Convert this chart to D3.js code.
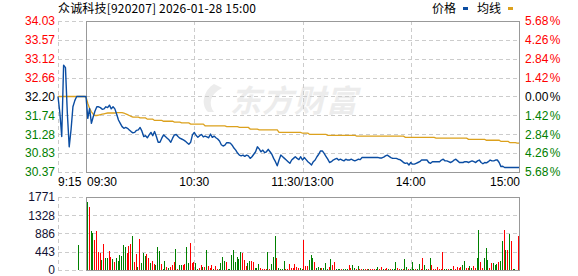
<!DOCTYPE html>
<html><head><meta charset="utf-8">
<script src="https://cdn.jsdelivr.net/npm/d3@7"></script>
<style>body{margin:0;background:#fff}svg{display:block}</style>
</head><body>
<svg id="c" width="578" height="276"></svg>
<script>
// ---------------- data ----------------
const title = "众诚科技[920207] 2026-01-28 15:00";
const legendNames = ["价格", "均线"];
const prevClose = 32.20;
const priceTicks = [34.03, 33.57, 33.12, 32.66, 32.20, 31.74, 31.28, 30.83, 30.37];
const pctTicks = ["5.68 %", "4.26 %", "2.84 %", "1.42 %", "0.00 %", "1.42 %", "2.84 %", "4.26 %", "5.68 %"];
const volTicks = [1771, 1328, 886, 443, 0];
const timeLabels = ["9:15", "09:30", "10:30", "11:30/13:00", "14:00", "15:00"];
const timeLabelMinutes = [0, 0, 60, 120, 180, 240]; // first on pre-market scale

// pre-market 9:15 .. 9:29
const prePrice = [32.20, 31.80, 31.23, 32.96, 32.90, 31.80, 30.98, 31.40, 31.95, 32.10, 32.20, 32.20, 32.20, 32.20, 32.20];
const preAvg = [32.20, 32.20, 32.20, 32.20, 32.20, 32.20, 32.20, 32.20, 32.20, 32.20, 32.20, 32.20, 32.20, 32.20, 32.20];
const preVolume = [0, 0, 0, 0, 0, 0, 0, 0, 0, 0, 607, 0, 0, 0, 0];

// 9:30 .. 15:00, one point per minute
const price = [
32.20,31.67,31.91,31.55,31.71,31.85,31.95,31.95,31.93,31.89,
31.90,31.95,31.93,31.99,31.90,31.95,31.90,31.77,31.63,31.55,
31.47,31.43,31.45,31.43,31.39,31.35,31.32,31.33,31.38,31.39,
31.45,31.36,31.23,31.25,31.20,31.27,31.33,31.25,31.35,31.23,
31.09,31.09,31.19,31.27,31.23,31.19,31.15,31.09,31.19,31.27,
31.28,31.23,31.19,31.17,31.15,31.12,31.08,31.04,31.09,31.27,
31.33,31.26,31.21,31.25,31.28,31.22,31.24,31.22,31.20,31.29,
31.21,31.24,31.20,31.17,31.12,31.03,31.00,31.02,31.08,31.08,
31.07,31.02,30.95,30.90,30.83,30.78,30.76,30.78,30.75,30.78,
30.76,30.70,30.74,30.80,30.86,30.98,30.93,30.86,30.90,30.84,
30.86,30.92,30.86,30.80,30.70,30.62,30.52,30.66,30.78,30.74,
30.70,30.66,30.62,30.58,30.66,30.70,30.74,30.70,30.67,30.74,
30.66,30.72,30.67,30.62,30.58,30.54,30.62,30.66,30.74,30.80,
30.88,30.88,30.82,30.75,30.68,30.60,30.62,30.66,30.68,30.70,
30.66,30.68,30.66,30.64,30.68,30.66,30.66,30.68,30.66,30.64,
30.66,30.68,30.67,30.72,30.72,30.72,30.72,30.72,30.72,30.72,
30.72,30.72,30.72,30.71,30.71,30.73,30.76,30.78,30.75,30.72,
30.70,30.70,30.70,30.68,30.67,30.64,30.60,30.58,30.59,30.54,
30.60,30.56,30.56,30.58,30.60,30.62,30.66,30.66,30.66,30.66,
30.60,30.58,30.62,30.62,30.62,30.62,30.62,30.66,30.68,30.64,
30.64,30.62,30.60,30.62,30.66,30.68,30.64,30.60,30.60,30.60,
30.62,30.62,30.60,30.62,30.64,30.62,30.60,30.64,30.66,30.60,
30.57,30.60,30.59,30.62,30.66,30.64,30.64,30.66,30.66,30.60,
30.50,30.51,30.48,30.48,30.48,30.48,30.48,30.48,30.48,30.48,
30.48];

const avgPrice = [
32.19,32.03,31.91,31.83,31.77,31.74,31.74,31.75,31.76,31.77,
31.78,31.79,31.80,31.80,31.80,31.80,31.80,31.81,31.81,31.81,
31.81,31.80,31.78,31.76,31.74,31.72,31.70,31.70,31.70,31.70,
31.68,31.68,31.68,31.68,31.65,31.65,31.65,31.65,31.62,31.62,
31.62,31.62,31.62,31.60,31.60,31.60,31.60,31.60,31.60,31.58,
31.58,31.58,31.58,31.56,31.56,31.56,31.56,31.56,31.53,31.53,
31.53,31.53,31.53,31.53,31.53,31.53,31.49,31.49,31.49,31.49,
31.49,31.49,31.49,31.49,31.49,31.49,31.49,31.49,31.47,31.47,
31.47,31.47,31.47,31.47,31.47,31.45,31.45,31.45,31.45,31.45,
31.45,31.41,31.41,31.41,31.41,31.41,31.39,31.39,31.39,31.39,
31.39,31.39,31.39,31.39,31.39,31.39,31.39,31.33,31.33,31.33,
31.33,31.33,31.33,31.33,31.33,31.33,31.33,31.33,31.33,31.33,
31.31,31.31,31.31,31.31,31.28,31.28,31.28,31.28,31.28,31.28,
31.28,31.28,31.28,31.28,31.26,31.26,31.26,31.26,31.26,31.26,
31.26,31.26,31.26,31.26,31.26,31.26,31.26,31.26,31.26,31.26,
31.24,31.24,31.24,31.24,31.24,31.24,31.24,31.24,31.24,31.24,
31.24,31.24,31.24,31.24,31.24,31.24,31.24,31.24,31.24,31.24,
31.24,31.24,31.24,31.24,31.24,31.24,31.24,31.21,31.21,31.21,
31.21,31.21,31.21,31.21,31.21,31.21,31.21,31.21,31.21,31.21,
31.21,31.21,31.21,31.21,31.19,31.19,31.19,31.19,31.19,31.19,
31.19,31.19,31.19,31.19,31.19,31.19,31.19,31.19,31.19,31.19,
31.19,31.19,31.16,31.16,31.16,31.16,31.16,31.16,31.16,31.16,
31.16,31.16,31.14,31.14,31.14,31.14,31.14,31.14,31.14,31.14,
31.11,31.11,31.11,31.11,31.11,31.08,31.08,31.08,31.08,31.07,
31.07];

// one bar per minute (9:31 .. 15:00)
const volume = [
1658,1537,947,906,728,947,429,405,243,631,
291,291,461,324,267,186,291,227,364,340,
607,550,413,590,631,825,202,388,81,752,
170,413,340,388,291,170,218,146,129,558,
461,146,24,218,73,49,81,129,194,510,
24,121,121,121,146,558,170,655,170,186,
170,24,49,121,73,73,485,97,49,121,
24,97,24,24,170,316,218,194,24,24,
364,485,194,316,267,437,413,243,97,170,
218,218,186,49,49,146,49,24,24,24,
437,24,146,316,825,291,49,24,24,218,
24,24,146,40,40,137,81,57,57,20,
728,97,97,243,364,283,202,40,81,40,
40,57,162,24,65,259,121,202,24,24,
24,24,24,24,24,121,40,121,40,24,
97,24,24,24,24,24,24,24,24,24,
24,73,24,65,24,24,49,24,24,24,
24,186,40,32,24,24,267,73,24,24,
194,32,24,24,137,24,291,129,24,32,
291,129,24,24,81,24,24,437,24,24,
24,24,24,97,24,65,40,81,121,210,
49,40,105,40,105,40,291,971,202,49,
283,534,235,49,162,162,129,146,202,227,
696,971,485,485,874,712,24,24,0,825];
// 1 = up minute (red), 0 = down minute (green)
const volUp = [
0,1,0,0,1,1,1,1,0,1, 0,0,1,1,0,1,0,0,0,0, 0,0,1,1,1,0,1,1,0,1, 0,0,0,1,1,0,1,1,0,0,
0,1,0,0,1,0,1,1,1,0, 1,0,0,1,1,0,0,1,1,1, 0,0,1,1,0,1,0,1,1,1, 0,1,1,0,0,0,0,1,0,0,
0,0,0,0,0,0,1,1,1,0, 0,1,1,0,0,0,1,1,1,1, 0,1,0,0,0,1,0,0,0,0, 1,1,1,1,1,1,1,1,0,0,
1,1,1,0,0,0,1,0,0,0, 1,0,0,0,1,0,1,1,0,0, 0,1,0,0,0,1,1,0,0,1, 0,1,1,0,1,1,0,1,1,1,
0,0,1,1,0,1,1,0,1,0, 0,0,1,1,0,1,0,0,1,0, 0,0,1,0,0,1,1,0,0,1, 0,1,1,1,1,1,1,1,0,0,
1,0,0,1,1,1,1,1,0,0, 1,1,0,0,1,1,0,0,1,1, 0,0,0,1,1,0,0,0,1,0, 0,1,0,1,0,1,0,0,0,1];

// ---------------- drawing ----------------
const C = {
  red: "#ff0000", green: "#008000", black: "#000000",
  blue: "#0b4da2", gold: "#dca11d",
  frame: "#999999", grid: "#cccccc"
};
const FONT = "'Liberation Sans', Arial, sans-serif";
const CJK = "'Noto Sans CJK SC', sans-serif";

const svg = d3.select("#c");
const xL = 58, x0 = 86, x1 = 519;
const pTop = 21, pBot = 172, vTop = 197, vBot = 270;

const xPre = d3.scaleLinear().domain([0, 15]).range([xL, x0]);
const x = d3.scaleLinear().domain([0, 240]).range([x0, x1]);
const y = d3.scaleLinear().domain([priceTicks[priceTicks.length - 1], priceTicks[0]]).range([pBot, pTop]);
const yv = d3.scaleLinear().domain([0, volTicks[0]]).range([vBot, vTop]);

const px = v => Math.round(v) + 0.5;

// watermark
svg.append("text").attr("x", 230).attr("y", 112)
  .attr("font-family", CJK).attr("font-size", 31).attr("font-weight", "bold")
  .attr("font-style", "italic").attr("fill", "#ececec").attr("letter-spacing", 1)
  .text("东方财富");
svg.append("path")
  .attr("d", "M214,84 C204,90 200,104 208,112 L214,112 C208,104 210,94 222,88 Z")
  .attr("fill", "#ececec");

// horizontal grids
function hgrid(vals, sc) {
  const g = svg.append("g");
  vals.forEach(v => {
    const yy = px(sc(v));
    g.append("line").attr("x1", xL).attr("x2", x1).attr("y1", yy).attr("y2", yy)
      .attr("stroke", C.grid).attr("stroke-dasharray", "4,3");
  });
}
hgrid(priceTicks, y);
hgrid(volTicks, yv);

// vertical grids + frames
[[pTop, pBot], [vTop, vBot]].forEach(([a, b]) => {
  [60, 120, 180].forEach(m => {
    svg.append("line").attr("x1", px(x(m))).attr("x2", px(x(m))).attr("y1", a).attr("y2", b)
      .attr("stroke", C.grid).attr("stroke-dasharray", "4,3");
  });
  svg.append("line").attr("x1", px(xL)).attr("x2", px(xL)).attr("y1", a).attr("y2", b)
    .attr("stroke", C.grid).attr("stroke-dasharray", "4,3");
  svg.append("rect").attr("x", px(x0)).attr("y", px(a)).attr("width", Math.round(x1) - Math.round(x0))
    .attr("height", Math.round(b) - Math.round(a))
    .attr("fill", "none").attr("stroke", C.frame);
});

// volume bars
const barG = svg.append("g").attr("shape-rendering", "crispEdges");
preVolume.forEach((v, i) => {
  if (!v) return;
  barG.append("rect").attr("x", Math.round(xPre(i + 0.5))).attr("width", 1)
    .attr("y", yv(v)).attr("height", vBot - yv(v)).attr("fill", C.green);
});
volume.forEach((v, i) => {
  if (!v) return;
  barG.append("rect").attr("x", Math.round(x(i + 0.5))).attr("width", 1)
    .attr("y", yv(v)).attr("height", vBot - yv(v))
    .attr("fill", volUp[i] ? C.red : C.green);
});

// lines
const prePts = prePrice.map((p, i) => [xPre(i), y(p)]);
const mainPts = price.map((p, i) => [x(i), y(p)]);
const preAvgPts = preAvg.map((p, i) => [xPre(i), y(p)]);
const avgPts = avgPrice.map((p, i) => [x(i), y(p)]);
const line = d3.line();
svg.append("path").attr("d", line(preAvgPts.concat(avgPts)))
  .attr("fill", "none").attr("stroke", C.gold).attr("stroke-width", 1.3);
svg.append("path").attr("d", line(prePts.concat(mainPts)))
  .attr("fill", "none").attr("stroke", C.blue).attr("stroke-width", 1.4)
  .attr("stroke-linejoin", "round");

// left price axis
const colorFor = v => v > prevClose + 1e-9 ? C.red : (v < prevClose - 1e-9 ? C.green : C.black);
const la = svg.append("g").attr("transform", `translate(${xL},0)`)
  .call(d3.axisLeft(y).tickValues(priceTicks).tickSize(0).tickPadding(3).tickFormat(d3.format(".2f")));
la.select(".domain").remove();
la.selectAll("text").attr("font-family", FONT).attr("font-size", 12).attr("fill", d => colorFor(d));

// right percent axis
const ra = svg.append("g").attr("transform", `translate(${x1 + 1},0)`)
  .call(d3.axisRight(y).tickValues(priceTicks).tickSize(0).tickPadding(5)
    .tickFormat((d, i) => pctTicks[i]));
ra.select(".domain").remove();
ra.selectAll("text").attr("font-family", FONT).attr("font-size", 12).attr("word-spacing", "-2px")
  .attr("fill", d => colorFor(d));

// volume axis
const va = svg.append("g").attr("transform", `translate(${xL},0)`)
  .call(d3.axisLeft(yv).tickValues(volTicks).tickSize(0).tickPadding(3).tickFormat(d3.format("d")));
va.select(".domain").remove();
va.selectAll("text").attr("font-family", FONT).attr("font-size", 12).attr("fill", "#111133");

// time labels
const tY = 186;
const tPos = [
  [xPre(timeLabelMinutes[0]), "start"],
  [x(timeLabelMinutes[1]) + 1, "start"],
  [x(timeLabelMinutes[2]), "middle"],
  [x(timeLabelMinutes[3]), "middle"],
  [x(timeLabelMinutes[4]), "middle"],
  [x(timeLabelMinutes[5]) + 1, "end"]
];
timeLabels.forEach((t, i) => {
  svg.append("text").attr("x", tPos[i][0]).attr("y", tY).attr("text-anchor", tPos[i][1])
    .attr("font-family", FONT).attr("font-size", 12).attr("fill", "#000").text(t);
});

// title
svg.append("text").attr("x", 58).attr("y", 13).attr("font-family", CJK).attr("font-size", 12)
  .attr("fill", "#000").attr("textLength", 198).attr("lengthAdjust", "spacing").text(title);

// legend
const lg = svg.append("g");
lg.append("text").attr("x", 432).attr("y", 13).attr("font-family", CJK).attr("font-size", 12).text(legendNames[0]);
lg.append("rect").attr("x", 463).attr("y", 7).attr("width", 5).attr("height", 3).attr("fill", C.blue);
lg.append("text").attr("x", 477).attr("y", 13).attr("font-family", CJK).attr("font-size", 12).text(legendNames[1]);
lg.append("rect").attr("x", 508).attr("y", 7).attr("width", 5).attr("height", 3).attr("fill", C.gold);
</script>
</body></html>
